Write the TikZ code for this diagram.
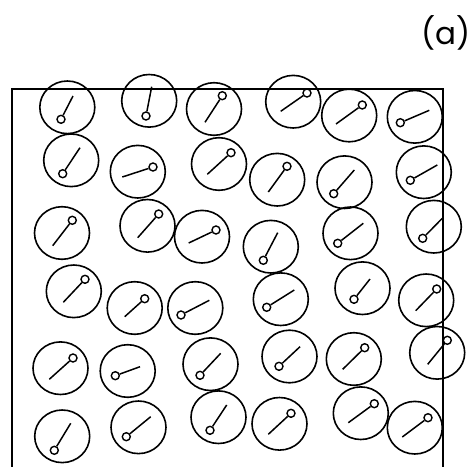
\documentclass[tikz,border=0pt]{standalone}
\usepackage{fontspec}
\setsansfont{Poppins}
\begin{document}
\begin{tikzpicture}[x=1pt,y=-1pt,
  disk/.style={line width=1.6pt},
  dot/.style={draw,circle,minimum size=8pt,inner sep=0pt,line width=1.4pt},
  stick/.style={line width=1.5pt},
  frame/.style={line width=2pt},
  lbl/.style={font=\sffamily\fontsize{31}{33}\selectfont,inner sep=0pt}]
\useasboundingbox (0,0) rectangle (471,466);
\coordinate (tl) at (12,89);
\coordinate (tr) at (443.3,89);
\coordinate (bl) at (12,470);
\coordinate (br) at (443.3,470);
\draw[frame] (bl) -- (tl) -- (tr) -- (br);
\node[lbl] (label) at (446,33) {(a)};
\foreach \i/\cx/\cy/\sx/\sy/\ex/\ey in {
1/67.3/107.3/61/119.3/73/96,
2/149.2/100.8/146/116/151.7/86.7,
3/214/109/222.3/95.7/205/122.3,
4/71.2/160.3/62.7/173.7/80/147.7,
5/137.8/171.7/153/167/122.3/177,
6/219/164/231/152.7/207.3/174.3,
7/293.2/101.7/307/93/280.7/111.3,
8/349.2/115.5/362.3/105/336/124,
9/414.8/116.8/400.3/122.7/429.3/110.3,
10/277.2/179.7/287/166.3/268.3/192,
11/344.5/182.2/333.7/193.7/354.3/170,
12/423.8/172.2/410.3/180.3/437.3/165,
13/62/233/72.3/220.3/52.7/245.7,
14/147.5/225.8/158.7/214/137.7/237.7,
15/202/236.7/216/230/188.7/243,
16/73.8/291.3/85/279.3/63.3/302.3,
17/134.7/308/144.7/298.7/124.7/316.7,
18/195.3/308/181/315/209.3/300.3,
19/270.8/246.7/263.3/260.3/277.7/232.7,
20/350.5/233.3/337.7/243.3/363.3/223.3,
21/433.8/226.7/422.7/238.3/442.3/218.3,
22/280.8/299.2/266.7/307.3/294.3/290,
23/362.5/288.2/354/299.3/370/279,
24/426.2/300.3/436.7/289/415.7/310.7,
25/60.5/368.2/73/358/49.3/379.3,
26/127.7/371/115.3/375.7/140/366.7,
27/210.5/364.2/200/375.3/220.7/353.3,
28/62.2/436.3/54.3/450.3/70.7/423.3,
29/138.5/427.3/126.3/436.7/150.7/416.7,
30/218.5/417.2/210/430.3/226.7/405,
31/289.5/356.5/279/366.3/300/346.7,
32/353.8/359/364.7/347.7/342.7/369.3,
33/437.2/352.8/447.3/340.3/427.7/364.3,
34/279.5/423.8/291/413.3/268.3/434.3,
35/360.8/413.2/374.3/403.7/348.3/422.7,
36/414.8/427.7/428/417.7/402.3/437}{
  \draw[disk] (\cx,\cy) ellipse [x radius=27.5, y radius=26.3];
  \node[dot] (s\i) at (\sx,\sy) {};
  \coordinate (e\i) at (\ex,\ey);
  \draw[stick] (s\i) -- (e\i);
}
\end{tikzpicture}
\end{document}
